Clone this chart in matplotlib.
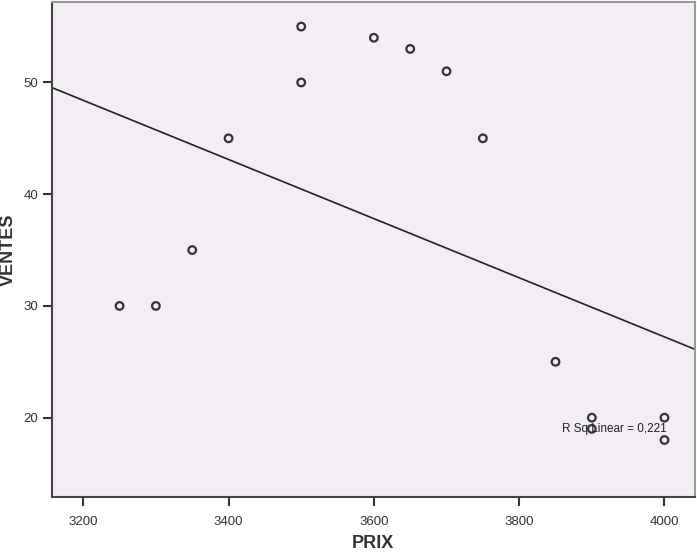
import numpy as np
import matplotlib.pyplot as plt

prix = [3250, 3300, 3350, 3400, 3500, 3500, 3600, 3650, 3700, 3750, 3850, 3900, 3900, 4000, 4000]
ventes = [30, 30, 35, 45, 55, 50, 54, 53, 51, 45, 25, 20, 19, 20, 18]
xticks = [3200, 3400, 3600, 3800, 4000]
yticks = [20, 30, 40, 50]

plt.rcParams['font.family'] = ['Liberation Sans', 'DejaVu Sans']

fig = plt.figure(figsize=(6.97, 5.52), dpi=100)
ax = fig.add_axes([52 / 697, 1 - 497 / 552, 643 / 697, 495 / 552])
ax.set_facecolor('#f2eef4')

ax.scatter(prix, ventes, s=30, facecolors='none', edgecolors='#333333', linewidths=1.6, zorder=3)

# droite de regression
a, b = np.polyfit(prix, ventes, 1)
xl = np.array([3157, 4042])
ax.plot(xl, a * xl + b, color='#222222', lw=1.2)
r2 = np.corrcoef(prix, ventes)[0, 1] ** 2
ax.text(3931, 19, 'R Sq Linear = %s' % ('%.3f' % r2).replace('.', ','),
        ha='center', va='center', fontsize=8.5, color='#222222', zorder=4)

ax.set_xlim(3157, 4042)
ax.set_ylim(12.9, 57.2)
ax.set_xticks(xticks)
ax.set_yticks(yticks)
ax.tick_params(direction='out', length=6.5, width=1.5, colors='#333333', labelsize=9.5)
ax.tick_params(axis='x', pad=7)
ax.tick_params(axis='y', pad=3.5)

for s in ['left', 'bottom']:
    ax.spines[s].set_color('#444444')
    ax.spines[s].set_linewidth(1.5)
for s in ['top', 'right']:
    ax.spines[s].set_color('#999999')
    ax.spines[s].set_linewidth(1.5)

fig.text(373 / 697, 1 - 543 / 552, 'PRIX', fontsize=13, fontweight='bold', color='#333333',
         ha='center', va='center')
fig.text(8 / 697, 1 - 250 / 552, 'VENTES', fontsize=13, fontweight='bold', color='#333333',
         ha='center', va='center', rotation=90)

fig.savefig('out.png', dpi=100)
